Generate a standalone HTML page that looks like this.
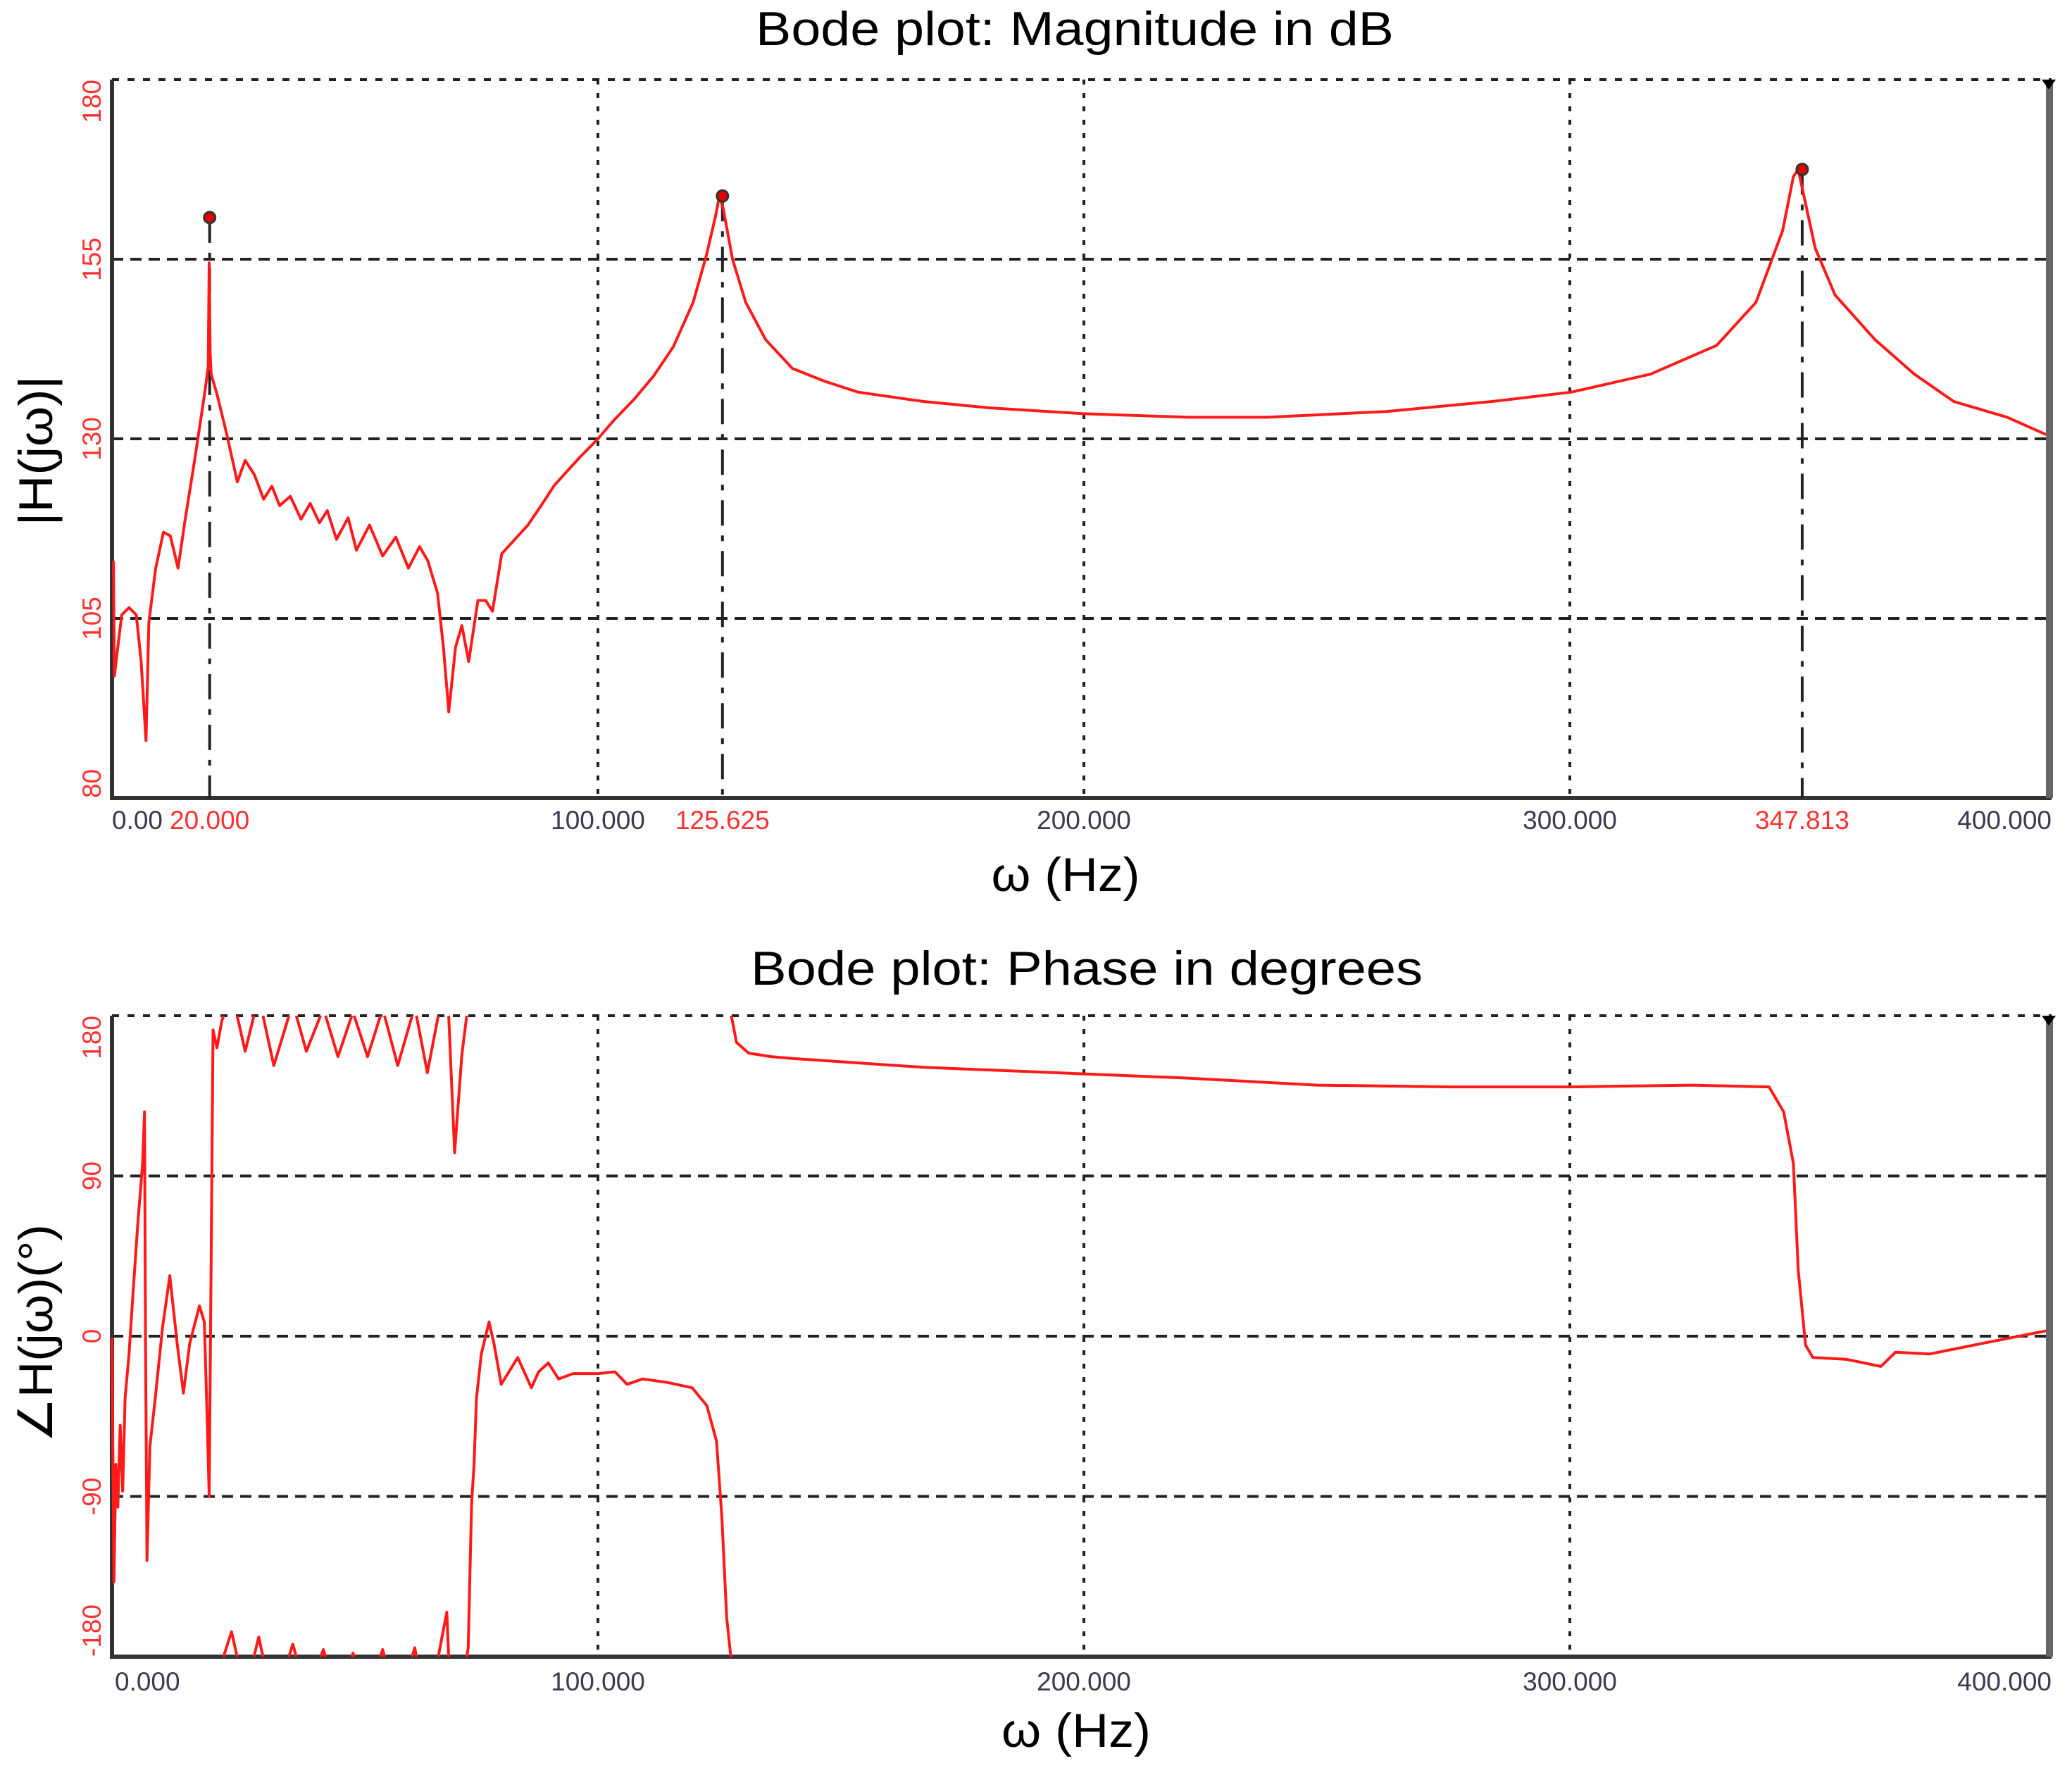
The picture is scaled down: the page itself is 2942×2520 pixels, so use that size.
<!DOCTYPE html>
<html><head><meta charset="utf-8">
<style>
html,body{margin:0;padding:0;background:#fff;}
svg{display:block;}
text{font-family:"Liberation Sans",sans-serif;}
</style></head>
<body>
<svg id="chart" xmlns="http://www.w3.org/2000/svg" width="2942" height="2520" viewBox="0 0 2942 2520">
<rect width="2942" height="2520" fill="#fff"/>
<g id="mag"></g>
<g id="ph"></g>
<text x="1526" y="64" text-anchor="middle" font-size="68" textLength="906" lengthAdjust="spacingAndGlyphs" fill="#000">Bode plot: Magnitude  in dB</text>
<text x="1513" y="1265" text-anchor="middle" font-size="68" textLength="211" lengthAdjust="spacingAndGlyphs" fill="#000">ω (Hz)</text>
<text x="1543" y="1398" text-anchor="middle" font-size="68" textLength="954" lengthAdjust="spacingAndGlyphs" fill="#000">Bode plot: Phase in degrees</text>
<text x="1528" y="2480" text-anchor="middle" font-size="68" textLength="212" lengthAdjust="spacingAndGlyphs" fill="#000">ω (Hz)</text>
<text transform="translate(74,640) rotate(-90)" text-anchor="middle" font-size="68" textLength="213" lengthAdjust="spacingAndGlyphs" fill="#000">|H(jω)|</text>
<text transform="translate(74,1893) rotate(-90)" text-anchor="middle" font-size="68" textLength="310" lengthAdjust="spacingAndGlyphs" fill="#000">∠H(jω)(°)</text>
</svg>
<script>
// ---- data ----
const magHz = [0.3,0.5,2,3.5,5,6,7,7.6,9,10.6,12,13.6,15,17,19,19.8,20,20.2,20.4,21.7,23.6,25.8,27.4,29.3,31.2,32.9,34.5,36.7,38.9,40.8,42.7,44.3,46.2,48.6,50.3,53,55.7,58.4,61,63.3,65,67,68.2,69.3,70.7,72,73.4,75.3,76.9,78.3,80.2,82.9,85.6,88.3,91,93.8,96.5,100,103.3,107.3,111.4,115.5,119.6,122.3,124.2,125,125.8,127.7,130.4,134.5,140,146.7,153.5,167,180.7,199.7,221.5,237.8,262.2,284,300.3,316.6,330.2,338.3,343.8,346,347,348.1,350.5,354.6,362.8,370.9,379,390,398];
const magDb = [113,97,105.5,106.5,105.5,99,88,104.5,112,117,116.5,112,118.5,127,136,140,154.5,142,139,136,130.7,124,127,125,121.6,123.4,120.7,122,118.8,121,118.3,120,116,119,114.5,118,113.7,116.3,112,115,113,108.5,101,92,101,104,99,107.5,107.5,106,114,116,118,120.7,123.5,125.6,127.6,130,132.6,135.4,138.7,142.8,149,155.5,161,163.8,162,155,149,143.8,139.8,138,136.5,135.2,134.3,133.5,133,133,133.8,135.2,136.5,139,143,149,159,166.5,167.5,164,156.5,150,143.8,139,135.2,133,130.6];
const peakHz = [20.1,125.625,347.813];
const peakDb = [160.8,163.8,167.5];
const peakLabels = ["20.000","125.625","347.813"];
// unwrapped phase (degrees)
const phHz = [0,0.4,0.8,1.2,1.7,2.2,2.7,3.5,4.3,5.3,6.3,6.7,6.9,7.2,7.8,8.9,10.4,11.9,13.4,14.7,16,18,19,19.6,20,20.4,20.8,21.6,22.6,24.6,27.4,30.2,33.3,37.2,40,43.5,46.5,49.6,52.6,55.7,58.8,62.3,64.9,68.9,70.5,72,73,73.3,74,74.5,75,76,77.6,78.6,80.1,81.7,83.5,86.3,87.8,89.8,91.9,94.9,100,103.5,106,109.2,114.3,119.4,122.4,124.4,125.5,126.5,127.3,127.6,128.5,131,135.6,140,167,194,221,248,276,300,325,341,344,346,347,348.5,350,357,364,367,374,385,398];
const phDeg = [-1,-138,-72,-96,-50,-87,-35,-10,23,63,97,126,0,-126,-62,-35,5,34,-4,-32,-4,17,8,-47,-90,42,172,162,177,194,160,191,152,187,160,184,157,182,157,184,152,185,148,205,103,158,180,185,266,288,325,350,368,356,333,340,348,331,340,345,336,339,339,340,333,336,334,331,321,301,258,202,181,178,165,159,157,156,151,148,145,141,140,140,141,140,126,97,37,-5,-12,-13,-17,-9,-10,-4,3];
const magYTicks = [180,155,130,105,80];
const phYTicks = [180,90,0,-90,-180];
const xGrid = [100,200,300];
const magXLabels = ["100.000","200.000","300.000"];
const phXLabels = ["0.000","100.000","200.000","300.000","400.000"];
const phXTickVals = [0,100,200,300,400];

// ---- geometry ----
const NS = "http://www.w3.org/2000/svg";
const X0 = 159, XPH = 6.9, XR = 2913;
const sx = hz => X0 + hz * XPH;
const MT = 113, MB = 1133;
const syM = db => MT + (180 - db) * (MB - MT) / 100;
const PT = 1442, PB = 2352;
const syP = d => PT + (180 - d) * (PB - PT) / 360;

function el(tag, attrs, parent) {
  const e = document.createElementNS(NS, tag);
  for (const k in attrs) e.setAttribute(k, attrs[k]);
  parent.appendChild(e);
  return e;
}

function frame(g, top, bottom, yTicks, sy, name) {
  yTicks.forEach((v, i) => {
    if (i === yTicks.length - 1) return;
    const y = sy(v);
    const l = el("line", {x1: X0, x2: XR, y1: y, y2: y, stroke: "#222", "stroke-width": 4, "stroke-dasharray": i === 0 ? "10 12" : "16 10"}, g);
    
    
    const t = el("text", {transform: `translate(143,${y}) rotate(-90)`, "font-size": 37, fill: "#ff3030",
      "text-anchor": i === 0 ? "end" : "middle"}, g);
    t.textContent = v;
    
    
  });
  const bt = el("text", {transform: `translate(143,${bottom}) rotate(-90)`, "font-size": 37, fill: "#ff3030", "text-anchor": "start"}, g);
  bt.textContent = yTicks[yTicks.length - 1];
  
  
  xGrid.forEach(v => {
    const x = sx(v);
    const l = el("line", {x1: x, x2: x, y1: top, y2: bottom, stroke: "#222", "stroke-width": 4, "stroke-dasharray": "7 12"}, g);
    
    
  });
  const ax = el("path", {d: `M${X0},${top} V${bottom} H${XR}`, stroke: "#333", "stroke-width": 6, fill: "none"}, g);
  
  
  const rb = el("rect", {x: XR - 8, y: top, width: 10, height: bottom - top, fill: "#666"}, g);
  
  
  const tri = el("path", {d: `M${XR - 14},${top} L${XR + 6},${top} L${XR - 4},${top + 14} Z`, fill: "#000"}, g);
  
  
}

// ---- magnitude ----
const gm = document.getElementById("mag");
frame(gm, MT, MB, magYTicks, syM, "magnitude");
const lab0 = el("text", {x: X0, y: 1177, "font-size": 37, fill: "#3a3a50"}, gm);
lab0.textContent = "0.00";


xGrid.forEach((v, i) => {
  const t = el("text", {x: sx(v), y: 1177, "font-size": 37, fill: "#3a3a50", "text-anchor": "middle"}, gm);
  t.textContent = magXLabels[i];
  
  
});
const l400 = el("text", {x: XR, y: 1177, "font-size": 37, fill: "#3a3a50", "text-anchor": "end"}, gm);
l400.textContent = "400.000";



peakHz.forEach((hz, i) => {
  const x = sx(hz);
  const l = el("line", {x1: x, x2: x, y1: syM(peakDb[i]), y2: MB, stroke: "#222", "stroke-width": 4, "stroke-dasharray": "36 14 8 14"}, gm);
  
  
});
let d = "";
magHz.forEach((hz, i) => { d += (i ? "L" : "M") + sx(hz).toFixed(1) + "," + syM(magDb[i]).toFixed(1); });
const mline = el("path", {d: d, stroke: "#ff1a1a", "stroke-width": 4, fill: "none", "stroke-linejoin": "round"}, gm);


peakHz.forEach((hz, i) => {
  const c = el("circle", {cx: sx(hz), cy: syM(peakDb[i]), r: 8, fill: "#e00000", stroke: "#333", "stroke-width": 3}, gm);
  
  
  const t = el("text", {x: sx(hz), y: 1177, "font-size": 37, fill: "#ff3030", "text-anchor": "middle"}, gm);
  t.textContent = peakLabels[i];
  
  
});

// ---- phase ----
const gp = document.getElementById("ph");
frame(gp, PT, PB, phYTicks, syP, "phase");
phXTickVals.forEach((v, i) => {
  const anchor = i === 0 ? "start" : (i === phXTickVals.length - 1 ? "end" : "middle");
  const x = i === 0 ? X0 + 4 : (i === phXTickVals.length - 1 ? XR : sx(v));
  const t = el("text", {x: x, y: 2400, "font-size": 37, fill: "#3a3a50", "text-anchor": anchor}, gp);
  t.textContent = phXLabels[i];
  
  
});
const br = v => Math.floor((v + 180) / 360);
let pd = "";
for (let i = 0; i < phHz.length; i++) {
  const v = phDeg[i], k = br(v);
  if (i === 0) { pd += "M" + sx(phHz[i]).toFixed(1) + "," + syP(v - 360 * k).toFixed(1); continue; }
  const vp = phDeg[i - 1], kp = br(vp);
  if (k !== kp) {
    const B = Math.min(k, kp) * 360 + 180;
    const f = (B - vp) / (v - vp);
    const xc = sx(phHz[i - 1] + f * (phHz[i] - phHz[i - 1]));
    pd += "L" + xc.toFixed(1) + "," + syP(B - 360 * kp).toFixed(1);
    pd += "M" + xc.toFixed(1) + "," + syP(B - 360 * k).toFixed(1);
  }
  pd += "L" + sx(phHz[i]).toFixed(1) + "," + syP(v - 360 * k).toFixed(1);
}
const pline = el("path", {d: pd, stroke: "#ff1a1a", "stroke-width": 4, fill: "none", "stroke-linejoin": "round"}, gp);


</script>
</body></html>
